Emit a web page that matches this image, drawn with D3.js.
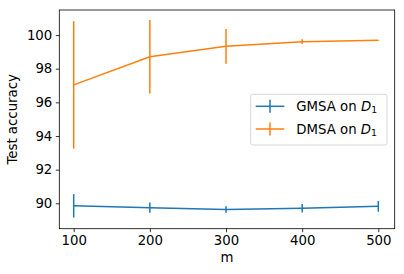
<!DOCTYPE html>
<html><head><meta charset="utf-8">
<script src="https://cdn.jsdelivr.net/npm/d3@7"></script>
<style>body{margin:0;background:#fff}svg{display:block;font-family:"DejaVu Sans",sans-serif}</style>
</head><body><svg id="c" width="404" height="274"></svg>
<script>
const mValues = [100, 200, 300, 400, 500];
const gmsaMean = [89.85, 89.74, 89.63, 89.71, 89.82];
const gmsaErr  = [0.70, 0.30, 0.19, 0.25, 0.32];
const dmsaMean = [97.04, 98.71, 99.33, 99.61, 99.69];
const dmsaErr  = [3.79, 2.19, 1.03, 0.14, 0.02];
const xTicks = [100, 200, 300, 400, 500];
const yTicks = [90, 92, 94, 96, 98, 100];
const seriesNames = ["GMSA on ", "DMSA on "];
const colors = ["#1f77b4", "#ff7f0e"];

const FS = 13.3;
const svg = d3.select("#c");
const L = 59.3, R = 394.7, T = 10, B = 228.7;
const x = d3.scaleLinear().domain([81.1, 521.5]).range([L, R]);
const y = d3.scaleLinear().domain([88.49, 101.49]).range([B, T]);

const series = [
  {mean: gmsaMean, err: gmsaErr},
  {mean: dmsaMean, err: dmsaErr}
];

series.forEach((s, i) => {
  const g = svg.append("g");
  const pts = mValues.map((m, k) => ({m, v: s.mean[k], e: s.err[k]}));
  g.selectAll("line.eb").data(pts).enter().append("line")
    .attr("x1", d => x(d.m)).attr("x2", d => x(d.m))
    .attr("y1", d => y(d.v - d.e)).attr("y2", d => y(d.v + d.e))
    .attr("stroke", colors[i]).attr("stroke-width", 1.5);
  g.append("path").datum(pts)
    .attr("d", d3.line().x(d => x(d.m)).y(d => y(d.v)))
    .attr("fill", "none").attr("stroke", colors[i]).attr("stroke-width", 1.5);
});

// axes
const xAxis = d3.axisBottom(x).tickValues(xTicks).tickSize(3.5).tickPadding(3.5);
const yAxis = d3.axisLeft(y).tickValues(yTicks).tickSize(3.5).tickPadding(3.5);
const gx = svg.append("g").attr("transform", `translate(0,${B})`).call(xAxis);
const gy = svg.append("g").attr("transform", `translate(${L},0)`).call(yAxis);
[gx, gy].forEach(g => {
  g.select(".domain").remove();
  g.selectAll("text").attr("font-size", FS).attr("fill", "#000").attr("font-family", "DejaVu Sans");
  g.selectAll("line").attr("stroke", "#000").attr("stroke-width", 0.8);
});
gx.selectAll("text").attr("dy", "0.71em");

svg.append("rect").attr("x", L).attr("y", T).attr("width", R - L).attr("height", B - T)
  .attr("fill", "none").attr("stroke", "#000").attr("stroke-width", 0.8);

svg.append("text").attr("x", (L + R) / 2).attr("y", 261.5).attr("text-anchor", "middle")
  .attr("font-size", FS).text("m");
svg.append("text").attr("transform", `translate(16.5,${(T + B) / 2}) rotate(-90)`)
  .attr("text-anchor", "middle").attr("font-size", FS).text("Test accuracy");

// legend
const lg = svg.append("g");
lg.append("rect").attr("x", 250.7).attr("y", 94.3).attr("width", 136.3).attr("height", 50.7)
  .attr("rx", 2).attr("fill", "#fff").attr("fill-opacity", 0.8).attr("stroke", "#ccc").attr("stroke-width", 0.8);
seriesNames.forEach((name, i) => {
  const cy = 106.3 + i * 22.7;
  lg.append("line").attr("x1", 255.7).attr("x2", 284.3).attr("y1", cy).attr("y2", cy)
    .attr("stroke", colors[i]).attr("stroke-width", 1.5);
  lg.append("line").attr("x1", 270).attr("x2", 270).attr("y1", cy - 6.5).attr("y2", cy + 6.5)
    .attr("stroke", colors[i]).attr("stroke-width", 1.5);
  const t = lg.append("text").attr("x", 296.3).attr("y", cy + 4.7).attr("font-size", FS);
  t.append("tspan").text(name);
  t.append("tspan").attr("font-style", "italic").text("D");
  t.append("tspan").attr("font-size", 9.3).attr("dy", 2).text("1");
});
</script>
</body></html>
